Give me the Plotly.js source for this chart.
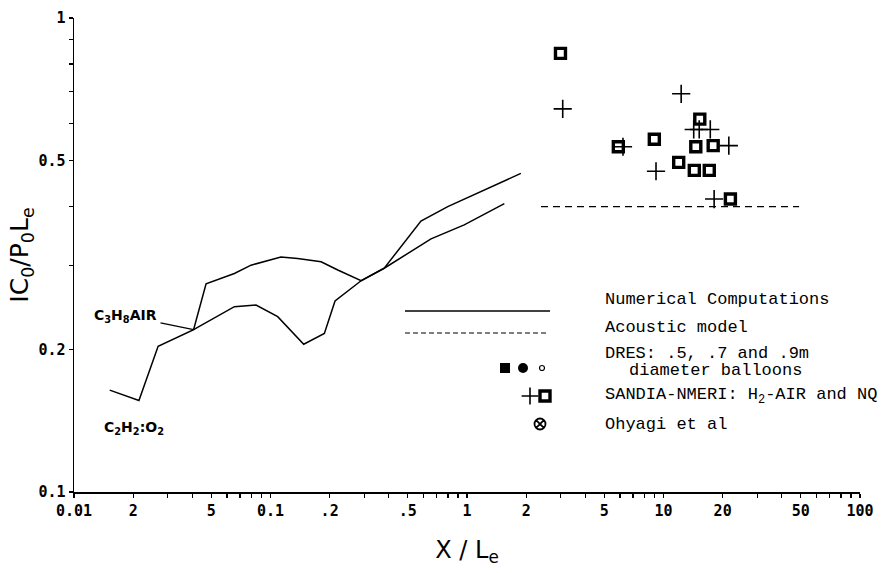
<!DOCTYPE html>
<html>
<head>
<meta charset="utf-8">
<script src="https://cdn.plot.ly/plotly-3.0.1.min.js"></script>
<style>html,body{margin:0;padding:0;background:#fff;}#chart{width:889px;height:573px;}</style>
</head>
<body>
<div id="chart"></div>
<script>
// ---- Data ----
// Numerical computations, C2H2:O2 curve
const c2h2X = [0.0152,0.0214,0.0268,0.0406,0.0470,0.0655,0.0796,0.113,0.1375,0.181,0.22,0.289,0.379,0.583,0.798,1.178,1.88];
const c2h2Y = [0.164,0.156,0.203,0.220,0.275,0.289,0.301,0.313,0.311,0.306,0.294,0.279,0.2965,0.373,0.400,0.430,0.470];
// Numerical computations, C3H8-AIR curve
const c3h8X = [0.0406,0.0655,0.0844,0.1088,0.1476,0.188,0.213,0.289,0.379,0.656,0.968,1.549];
const c3h8Y = [0.220,0.246,0.248,0.2344,0.205,0.216,0.253,0.279,0.2965,0.342,0.366,0.406];
// Acoustic model
const acousticX = [2.38, 49];
const acousticY = [0.40, 0.40];
// SANDIA-NMERI: NQ (squares)
const nqX = [2.99,5.89,8.98,11.95,15.3,14.6,17.9,14.35,17.1,21.9];
const nqY = [0.842,0.535,0.555,0.496,0.612,0.535,0.538,0.477,0.477,0.415];
// SANDIA-NMERI: H2-AIR (plus)
const h2X = [3.07,12.3,6.22,14.25,15.2,17.3,21.5,9.16,18.1];
const h2Y = [0.643,0.692,0.535,0.582,0.582,0.582,0.538,0.475,0.415];

// Tick values / labels
const xTickVals = [0.01,0.02,0.03,0.04,0.05,0.06,0.07,0.08,0.09,0.1,0.2,0.3,0.4,0.5,0.6,0.7,0.8,0.9,1,2,3,4,5,6,7,8,9,10,20,30,40,50,60,70,80,90,100];
const xTickText = ['0.01','2','','','5','','','','','0.1','.2','','','.5','','','','','1','2','','','5','','','','','10','20','','','50','','','','','100'];
const yTickVals = [0.1,0.2,0.3,0.4,0.5,0.6,0.7,0.8,0.9,1];
const yTickText = ['0.1','0.2','','','0.5','','','','','1'];

// Legend / label text
const legendTexts = ['Numerical Computations','Acoustic model','DRES: .5, .7 and .9m','diameter balloons','SANDIA-NMERI: H<sub>2</sub>-AIR and NQ','Ohyagi et al'];

// ---- layout positions (pixel frame of overlay axes) ----
const legTextX = [603,603,603,627,603,603];
const legTextY = [299,327,353,370,396,424];

const black = '#000';
const traces = [
  {x:c2h2X, y:c2h2Y, mode:'lines', line:{color:black,width:1.5}, xaxis:'x', yaxis:'y', hoverinfo:'skip'},
  {x:c3h8X, y:c3h8Y, mode:'lines', line:{color:black,width:1.5}, xaxis:'x', yaxis:'y', hoverinfo:'skip'},
  {x:acousticX, y:acousticY, mode:'lines', line:{color:black,width:1.3,dash:'7px,5px'}, xaxis:'x', yaxis:'y'},
  {x:h2X, y:h2Y, mode:'markers', marker:{symbol:'cross-thin-open',size:13,color:black,line:{color:black,width:1.6}}, xaxis:'x', yaxis:'y'},
  {x:nqX, y:nqY, mode:'markers', marker:{symbol:'square-open',size:10,color:black,line:{color:black,width:3.4}}, xaxis:'x', yaxis:'y'},
  // legend samples on overlay pixel axes
  {x:[405,550], y:[311,311], mode:'lines', line:{color:black,width:1.5}, xaxis:'x2', yaxis:'y2'},
  {x:[405,548], y:[333,333], mode:'lines', line:{color:black,width:1.2,dash:'5px,3px'}, xaxis:'x2', yaxis:'y2'},
  {x:[505], y:[368], mode:'markers', marker:{symbol:'square',size:10,color:black}, xaxis:'x2', yaxis:'y2'},
  {x:[523], y:[368], mode:'markers', marker:{symbol:'circle',size:10,color:black}, xaxis:'x2', yaxis:'y2'},
  {x:[542], y:[368], mode:'markers', marker:{symbol:'circle-open',size:5,color:black,line:{color:black,width:1.2}}, xaxis:'x2', yaxis:'y2'},
  {x:[530], y:[396], mode:'markers', marker:{symbol:'cross-thin-open',size:12,color:black,line:{color:black,width:1.6}}, xaxis:'x2', yaxis:'y2'},
  {x:[545], y:[396], mode:'markers', marker:{symbol:'square-open',size:10,color:black,line:{color:black,width:3.4}}, xaxis:'x2', yaxis:'y2'},
  {x:[540], y:[424], mode:'markers', marker:{symbol:'circle-x-open',size:11,color:black,line:{color:black,width:1.8}}, xaxis:'x2', yaxis:'y2'}
];

const annFont = {family:'Liberation Mono, Courier New, monospace', size:17, color:black};
const annotations = legendTexts.map((t,i)=>({
  text:t, x:legTextX[i], y:legTextY[i], xref:'x2', yref:'y2', xanchor:'left', yanchor:'middle', showarrow:false, font:annFont
}));
annotations.push({
  text:'C<sub>3</sub>H<sub>8</sub>AIR', x:Math.log10(c3h8X[0]), y:Math.log10(c3h8Y[0]), xref:'x', yref:'y',
  ax:-68, ay:-14, showarrow:true, arrowhead:0, arrowwidth:1.2, arrowcolor:black, standoff:0, startstandoff:2,
  font:{family:'DejaVu Sans, Arial, sans-serif', size:14, color:black, weight:'bold'}
});
annotations.push({
  text:'C<sub>2</sub>H<sub>2</sub>:O<sub>2</sub>', x:134, y:428, xref:'x2', yref:'y2', showarrow:false,
  font:{family:'DejaVu Sans, Arial, sans-serif', size:14, color:black, weight:'bold'}
});

const tickFont = {family:'DejaVu Sans Mono, monospace', size:15, color:black, weight:'bold'};
const layout = {
  width:889, height:573,
  margin:{l:74, r:29, t:18, b:81, pad:0},
  paper_bgcolor:'#fff', plot_bgcolor:'#fff',
  showlegend:false,
  xaxis:{type:'log', range:[-2,2], showline:true, linecolor:black, linewidth:1.5, mirror:false,
    ticks:'outside', ticklen:4, tickwidth:1.2, tickcolor:black, showgrid:false, zeroline:false,
    tickmode:'array', tickvals:xTickVals, ticktext:xTickText, tickfont:tickFont, tickangle:0,
    title:{text:'X / L<sub>e</sub>', font:{family:'DejaVu Sans, Arial, sans-serif', size:24, color:black}, standoff:22}},
  yaxis:{type:'log', range:[-1,0], showline:true, linecolor:black, linewidth:1.5,
    ticks:'outside', ticklen:4, tickwidth:1.2, tickcolor:black, showgrid:false, zeroline:false,
    tickmode:'array', tickvals:yTickVals, ticktext:yTickText, tickfont:tickFont,
    title:{text:'IC<sub>0</sub>/P<sub>0</sub>L<sub>e</sub>', font:{family:'DejaVu Sans, Arial, sans-serif', size:25, color:black}, standoff:2}},
  xaxis2:{overlaying:'x', anchor:'y2', range:[74,860], visible:false, fixedrange:true},
  yaxis2:{overlaying:'y', anchor:'x2', range:[492,18], visible:false, fixedrange:true},
  annotations:annotations
};

Plotly.newPlot('chart', traces, layout, {staticPlot:true, displayModeBar:false});
</script>
</body>
</html>
